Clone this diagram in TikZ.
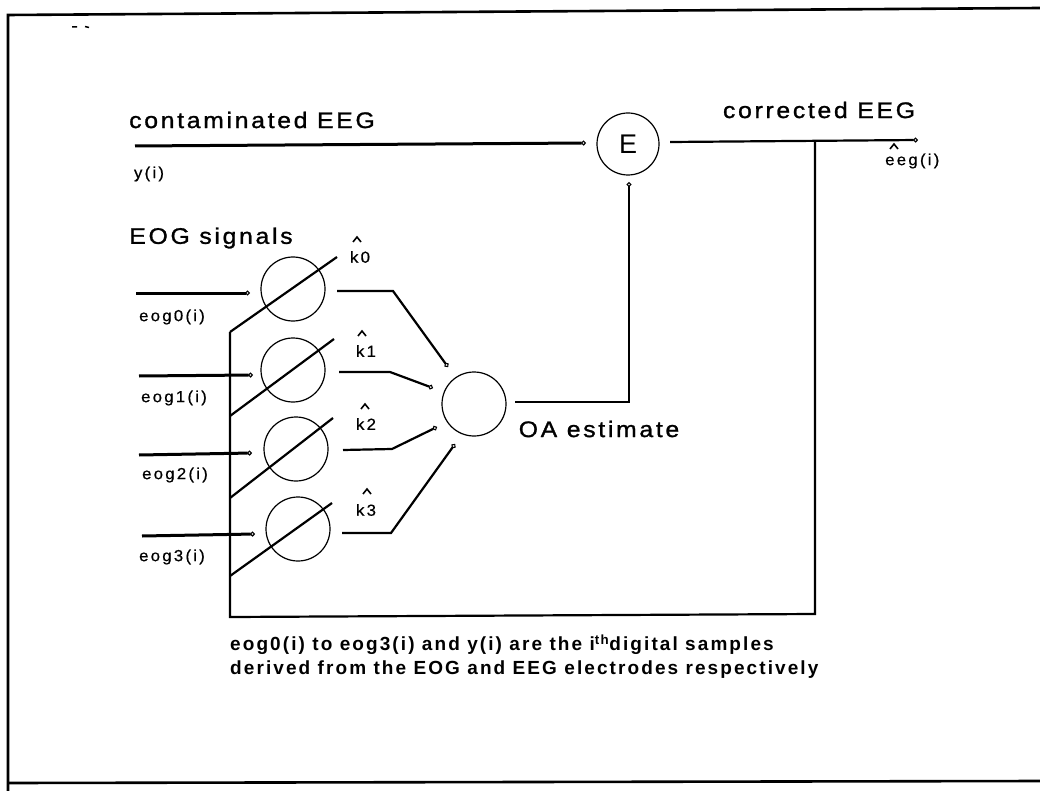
\documentclass[tikz,border=0pt]{standalone}
\usepackage{fontspec}
\setmainfont{Liberation Sans}
\newfontfamily\bigf[FakeStretch=1.1,LetterSpace=12,FakeBold=1.2]{Liberation Sans}
\newfontfamily\smallf[FakeStretch=1.05,LetterSpace=14,FakeBold=0.6]{Liberation Sans}
\newfontfamily\notef[LetterSpace=11]{Liberation Sans}
\newfontfamily\thinf{Liberation Sans}
\usetikzlibrary{arrows.meta}
\begin{document}
\begin{tikzpicture}[x=1pt,y=-1pt,
  bigtext/.style={font={\bigf\fontsize{22.5}{27}\selectfont},inner sep=0pt},
  smalltext/.style={font={\smallf\fontsize{16}{19}\selectfont},inner sep=0pt},
  notetext/.style={font={\notef\bfseries\fontsize{19}{22}\selectfont},inner sep=0pt},
  ring/.style={circle,draw,line width=1.2pt,minimum size=64pt,inner sep=0pt},
  framel/.style={line width=2.6pt},
  heavy/.style={line width=3pt},
  sig/.style={line width=2.2pt},
  hatl/.style={line width=1.6pt},
  dotend/.style={-{Circle[open,length=5pt,width=5pt,line width=1.1pt]}}]
\useasboundingbox (0,0) rectangle (1040,791);
% frame
\draw[framel] (8,791) -- (8,15) -- (1040,8);
\draw[framel] (8,783) -- (1040,781);
\draw[line width=1.5pt] (72,27) -- (77,27) (85,26.5) -- (89,27.5);
% circles
\node[ring,minimum size=62pt,font={\thinf\fontsize{27}{30}\selectfont}] (E) at (628,144) {E};
\node[ring] (OA) at (474,404) {};
\node[ring] (w0) at (293,289) {};
\node[ring] (w1) at (293,370) {};
\node[ring] (w2) at (296,449) {};
\node[ring] (w3) at (298,529) {};
% texts
\node[bigtext] (contam) at (252,120) {contaminated EEG};
\node[smalltext] (ylab) at (149,174) {y(i)};
\node[bigtext] (eogsig) at (211,238) {EOG signals};
\node[bigtext] (corr) at (819,110) {corrected EEG};
\node[smalltext,anchor=west] (eeglab) at (885,161) {eeg(i)};
\node[bigtext] (oalab) at (599,429) {OA estimate};
\node[smalltext] (l0) at (172,317) {eog0(i)};
\node[smalltext] (l1) at (174,398) {eog1(i)};
\node[smalltext] (l2) at (175,475) {eog2(i)};
\node[smalltext] (l3) at (172,557) {eog3(i)};
\node[smalltext] (k0) at (360,257) {k0};
\node[smalltext] (k1) at (366,351) {k1};
\node[smalltext] (k2) at (366,424) {k2};
\node[smalltext] (k3) at (366,510) {k3};
\node[notetext,anchor=west] (note1) at (230,645) {eog0(i) to eog3(i) and y(i) are the i\textsuperscript{th}digital samples};
\node[notetext,anchor=west] (note2) at (230,670) {derived from the EOG and EEG electrodes respectively};
% hats
\draw[hatl] (353,242) -- (357,237) -- (361,242);
\draw[hatl] (358,336) -- (362,331) -- (366,336);
\draw[hatl] (361,409) -- (365,404) -- (369,409);
\draw[hatl] (363,494) -- (367,489) -- (371,494);
\draw[hatl] (890,149) -- (894,144) -- (898,149);
% coordinates
\coordinate (yin) at (135,146);
\coordinate (Ein) at (586,143);
\coordinate (Eout) at (670,142);
\coordinate (eegout) at (918,140);
\coordinate (br) at (815,141);
\coordinate (brb) at (815,614);
\coordinate (busb) at (230,617);
\coordinate (bust) at (230,332);
\coordinate (fbc) at (629,402);
\coordinate (fbe) at (629,182);
\coordinate (oaout) at (515,402);
% main signal path
\draw[heavy,dotend] (yin) -- (Ein);
\draw[sig,dotend] (Eout) -- (eegout);
\draw[sig] (br) -- (brb) -- (busb) -- (bust);
\draw[sig,dotend] (oaout) -- (fbc) -- (fbe);
% diagonals
\coordinate (d1a) at (230,416);
\coordinate (d2a) at (230,498);
\coordinate (d3a) at (230,576);
\coordinate (d0b) at (337,257);
\coordinate (d1b) at (334,339);
\coordinate (d2b) at (333,418);
\coordinate (d3b) at (332,503);
\draw[sig] (bust) -- (d0b);
\draw[sig] (d1a) -- (d1b);
\draw[sig] (d2a) -- (d2b);
\draw[sig] (d3a) -- (d3b);
% eog inputs
\coordinate (e0s) at (136,293); \coordinate (e0e) at (250,293);
\coordinate (e1s) at (139,376); \coordinate (e1e) at (253,375);
\coordinate (e2s) at (139,455); \coordinate (e2e) at (252,453);
\coordinate (e3s) at (142,536); \coordinate (e3e) at (255,534);
\draw[heavy,dotend] (e0s) -- (e0e);
\draw[heavy,dotend] (e1s) -- (e1e);
\draw[heavy,dotend] (e2s) -- (e2e);
\draw[heavy,dotend] (e3s) -- (e3e);
% weighted outputs to OA
\coordinate (o0s) at (337,291); \coordinate (o0m) at (393,291); \coordinate (o0e) at (448,367);
\coordinate (o1s) at (339,372); \coordinate (o1m) at (390,372); \coordinate (o1e) at (433,388);
\coordinate (o2s) at (343,450); \coordinate (o2m) at (392,449); \coordinate (o2e) at (437,427);
\coordinate (o3s) at (342,533); \coordinate (o3m) at (391,533); \coordinate (o3e) at (455,444);
\draw[sig,dotend] (o0s) -- (o0m) -- (o0e);
\draw[sig,dotend] (o1s) -- (o1m) -- (o1e);
\draw[sig,dotend] (o2s) -- (o2m) -- (o2e);
\draw[sig,dotend] (o3s) -- (o3m) -- (o3e);
\end{tikzpicture}
\end{document}
